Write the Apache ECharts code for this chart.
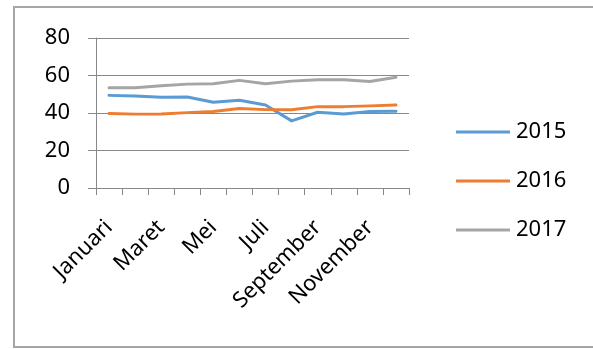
<!DOCTYPE html>
<html>
<head>
<meta charset="utf-8">
<script src="https://cdn.jsdelivr.net/npm/echarts@6/dist/echarts.min.js"></script>
<style>
html,body{margin:0;padding:0;background:#fff;}
#c{width:593px;height:349px;}
</style>
</head>
<body>
<div id="c"></div>
<script>
const months = ['Januari','Februari','Maret','April','Mei','Juni','Juli','Agustus','September','Oktober','November','Desember'];
const seriesNames = ['2015','2016','2017'];
const values2015 = [49.4, 49.1, 48.4, 48.5, 45.7, 46.8, 44.3, 35.8, 40.4, 39.5, 40.8, 40.9];
const values2016 = [39.7, 39.4, 39.5, 40.2, 40.8, 42.4, 41.8, 41.7, 43.4, 43.4, 43.8, 44.3];
const values2017 = [53.5, 53.5, 54.5, 55.4, 55.6, 57.4, 55.6, 57.0, 57.7, 57.7, 56.8, 59.1];
const yTicks = [0, 20, 40, 60, 80];

const colors = ['#5B9BD5', '#ED7D31', '#A5A5A5'];
const font = 'Noto Sans';
const chart = echarts.init(document.getElementById('c'), null, {renderer: 'canvas'});
const mk = (name, data, color) => ({
  name: name, type: 'line', data: data, symbol: 'none', smooth: false,
  lineStyle: {color: color, width: 3, cap: 'round', join: 'round'},
  itemStyle: {color: color}
});
chart.setOption({
  animation: false,
  backgroundColor: '#fff',
  textStyle: {fontFamily: font},
  graphic: [{
    type: 'rect', silent: true,
    shape: {x: 14, y: 7, width: 640, height: 340},
    style: {fill: 'none', stroke: '#a6a6a6', lineWidth: 2}
  }],
  grid: {left: 96, right: 184, top: 38, bottom: 161, containLabel: false},
  legend: {
    orient: 'vertical', left: 456, top: 121, itemGap: 27, padding: 0,
    itemWidth: 54, itemHeight: 3, icon: 'rect',
    data: seriesNames,
    textStyle: {fontFamily: font, fontSize: 22, color: '#000', padding: [0,0,0,1]}
  },
  xAxis: {
    type: 'category', data: months, boundaryGap: true,
    axisLine: {lineStyle: {color: '#888', width: 1}},
    axisTick: {show: true, length: 7, alignWithLabel: false, interval: 0, lineStyle: {color: '#888'}},
    axisLabel: {interval: 1, rotate: 45, margin: 36,
      fontFamily: font, fontSize: 22, color: '#000'},
    splitLine: {show: false}
  },
  yAxis: {
    type: 'value', min: yTicks[0], max: yTicks[yTicks.length-1], interval: 20,
    axisLine: {show: true, lineStyle: {color: '#888', width: 1}},
    axisTick: {show: true, length: 8, lineStyle: {color: '#888'}},
    axisLabel: {margin: 26, fontFamily: font, fontSize: 22, color: '#000'},
    splitLine: {show: true, lineStyle: {color: '#888', width: 1}}
  },
  series: [
    mk(seriesNames[0], values2015, colors[0]),
    mk(seriesNames[1], values2016, colors[1]),
    mk(seriesNames[2], values2017, colors[2])
  ]
});
</script>
</body>
</html>
